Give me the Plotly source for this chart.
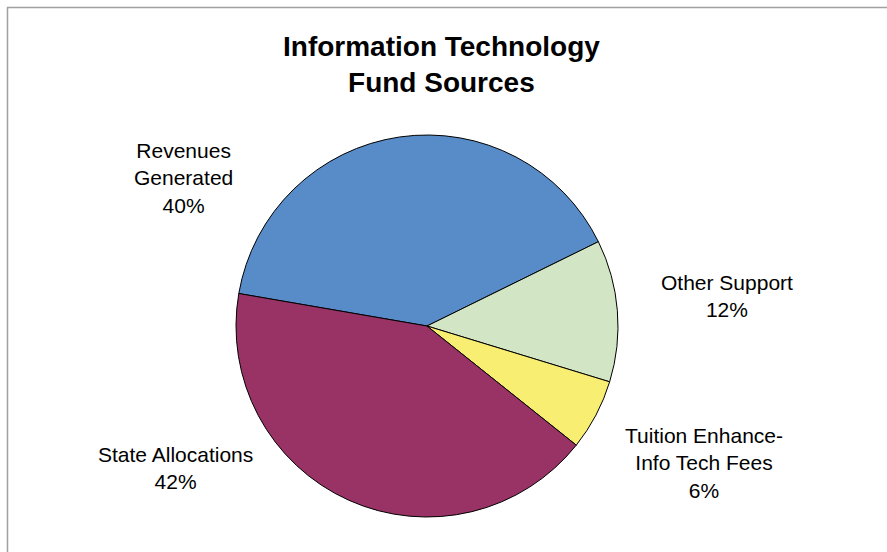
import plotly.graph_objects as go

# Fund sources, in percent of the total
sources = ["Revenues Generated", "Other Support",
           "Tuition Enhance-Info Tech Fees", "State Allocations"]
label_lines = [["Revenues", "Generated"], ["Other Support"],
               ["Tuition Enhance-", "Info Tech Fees"], ["State Allocations"]]
shares = [40, 12, 6, 42]
slice_colors = ["#588CC8", "#D2E6C6", "#F8EE72", "#993366"]

W, H = 887, 552
FONT = "Liberation Sans, Arial, sans-serif"

# pie placement in pixels (centre and radius)
cx, cy, r = 427, 326, 191

fig = go.Figure(go.Pie(
    labels=sources,
    values=shares,
    sort=False,
    direction="clockwise",
    rotation=-80.2,
    marker=dict(colors=slice_colors, line=dict(color="#000000", width=1)),
    textinfo="none",
    hoverinfo="label+percent",
    showlegend=False,
    domain=dict(x=[(cx - r) / W, (cx + r) / W],
                y=[(H - cy - r) / H, (H - cy + r) / H]),
))

# slice labels placed around the pie (pixel centres)
label_pos = [(183, 178), (727, 296), (704, 463), (175, 468)]
annotations = []
for lines, val, (px, py) in zip(label_lines, shares, label_pos):
    annotations.append(dict(
        text="<br>".join(lines + [f"{val}%"]),
        x=px / W, y=1 - py / H, xref="paper", yref="paper",
        xanchor="center", yanchor="middle", showarrow=False,
        align="center", font=dict(family=FONT, size=21, color="#000000"),
    ))

# chart title
annotations.append(dict(
    text="<b>Information Technology<br>Fund Sources</b>",
    x=441 / W, y=1 - 65 / H, xref="paper", yref="paper",
    xanchor="center", yanchor="middle", showarrow=False, align="center",
    font=dict(family=FONT, size=28, color="#000000"),
))

fig.update_layout(
    width=W, height=H,
    margin=dict(l=0, r=0, t=0, b=0),
    paper_bgcolor="#FFFFFF",
    plot_bgcolor="#FFFFFF",
    annotations=annotations,
    shapes=[dict(type="rect", xref="paper", yref="paper",
                 x0=7.5 / W, x1=1.05, y0=-0.05, y1=1 - 7.5 / H,
                 line=dict(color="#A0A0A0", width=1.5))],
)

fig.write_html("out.html")
